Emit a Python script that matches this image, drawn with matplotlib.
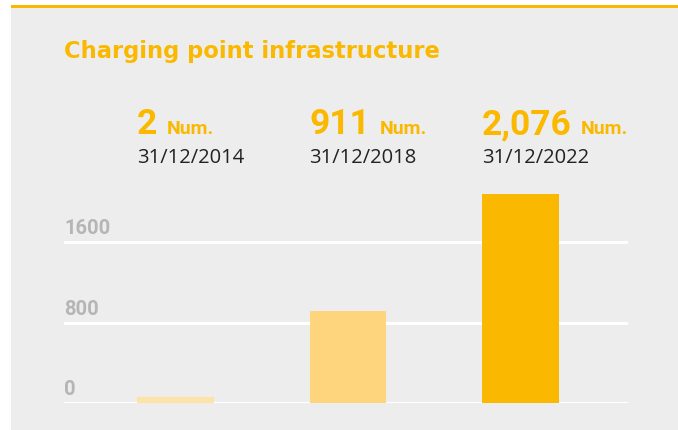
import matplotlib.pyplot as plt
import numpy as np
from matplotlib.patches import Rectangle
from matplotlib.transforms import blended_transform_factory, offset_copy

# data
dates = ["31/12/2014", "31/12/2018", "31/12/2022"]
values = [2, 911, 2076]
value_labels = ["2", "911", "2,076"]
unit = "Num."
yticks = [0, 800, 1600]

YELLOW = "#FAB900"
bar_colors = ["#FEE3A8", "#FED57D", "#FAB900"]
BG = "#EDEDED"
TICK_GREY = "#B5B5B5"
BOLD = dict(family="Roboto", weight="bold")
REG = dict(family="Open Sans")

W, H = 678, 430
fig = plt.figure(figsize=(W / 100, H / 100), dpi=100)
fig.patch.set_facecolor("white")

# grey panel with yellow rule on top
fig.patches.append(Rectangle((11 / W, 0), 1, (H - 7) / H, transform=fig.transFigure,
                             facecolor=BG, edgecolor="none", zorder=-10))
fig.patches.append(Rectangle((11 / W, (H - 8) / H), 1, 3 / H, transform=fig.transFigure,
                             facecolor=YELLOW, edgecolor="none", zorder=-9))

fig.text(64 / W, (H - 58) / H, "Charging point infrastructure", family="DejaVu Sans",
         weight="bold", fontsize=16.3, color=YELLOW, ha="left", va="baseline")

# plot area
ax = fig.add_axes([64 / W, (H - 403) / H, 564 / W, 211 / H])
ax.set_facecolor("none")
x = np.arange(len(values))
width = 0.446
# tiny values get a minimum visible height, like the original
shown = np.maximum(values, 55)
ax.bar(x, shown, width=width, color=bar_colors, zorder=3)
ax.set_xlim(-0.646, 2.623)
ax.set_ylim(0, 2100)
for t in yticks:
    ax.axhline(t, color="white", lw=2.2, zorder=1)
    ax.annotate(str(t), xy=(0, t), xycoords=("axes fraction", "data"),
                xytext=(0, 4), textcoords="offset pixels", color=TICK_GREY,
                fontsize=14.5, ha="left", va="bottom", **BOLD)
for s in ax.spines.values():
    s.set_visible(False)
ax.set_xticks([])
ax.set_yticks([])

# headline numbers above each bar
trans = blended_transform_factory(ax.transData, fig.transFigure)
renderer = fig.canvas.get_renderer()
for i, (lab, d) in enumerate(zip(value_labels, dates)):
    xl = x[i] - width / 2
    big = fig.text(xl, (H - 134) / H, lab, transform=trans, color=YELLOW,
                   fontsize=25.5, ha="left", va="baseline", **BOLD)
    bw = big.get_window_extent(renderer).width
    fig.text(xl, (H - 134) / H, unit,
             transform=offset_copy(trans, fig=fig, x=bw + 9, y=0, units="dots"),
             color=YELLOW, fontsize=14, ha="left", va="baseline", **BOLD)
    fig.text(xl, (H - 163) / H, d, transform=trans, color="#222222",
             fontsize=14.5, ha="left", va="baseline", **REG)

fig.savefig("out.png", dpi=100)
